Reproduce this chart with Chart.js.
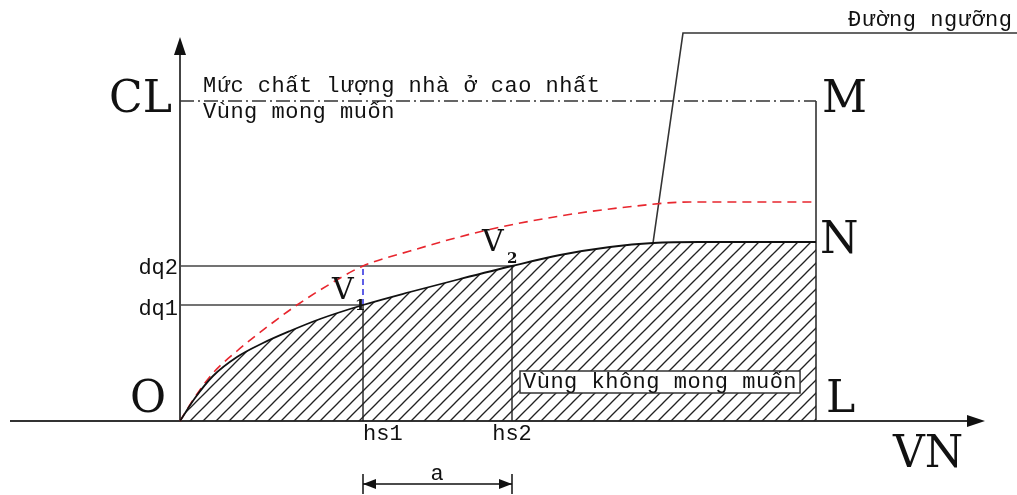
<!DOCTYPE html>
<html>
<head>
<meta charset="utf-8">
<script src="https://cdn.jsdelivr.net/npm/chart.js@4/dist/chart.umd.min.js"></script>
<style>
  html, body { margin: 0; padding: 0; background: #fff; }
  #wrap { width: 1017px; height: 495px; }
</style>
</head>
<body>
<div id="wrap"><canvas id="canvas"></canvas></div>
<script>
// units: distance from O along VN (x) and CL (y)
const curveX = [0, 15, 33, 57, 83, 110, 140, 183, 230, 280, 332, 380, 430, 473, 520, 636]
const lowerY = [0, 23, 45, 64, 78, 90, 102, 116, 129, 142, 155, 166, 174, 178, 179, 179]
const upperX = [0, 15, 33, 57, 87, 117, 150, 183, 230, 303, 380, 447, 510, 636]
const upperY = [0, 24, 48, 70, 94, 116, 137, 155, 170, 190, 205, 214, 219, 219]

const hs1 = 183
const hs2 = 332
const dq1 = 116
const dq2 = 155
const xL = 636
const yCL = 320
const leaderX = [473, 503, 837]
const leaderY = [178, 388, 388]

const pts = (xs, ys) => xs.map((x, i) => ({x: x, y: ys[i]}))

const makeHatch = () => {
    const s = 13
    const c = document.createElement('canvas')
    c.width = s
    c.height = s
    const g = c.getContext('2d')
    g.strokeStyle = '#222'
    g.lineWidth = 1.3
    for (let k = -1; k <= 1; k++) {
        g.beginPath()
        g.moveTo(k * s - 1, s + 1)
        g.lineTo(k * s + s + 1, -1)
        g.stroke()
    }
    return g.createPattern(c, 'repeat')
}

const line = (data, color, width, dash) => ({
    type: 'line',
    data: data,
    borderColor: color,
    borderWidth: width,
    borderDash: dash || [],
    pointRadius: 0,
    fill: false,
    tension: 0
})

const mono = '"Liberation Mono", monospace'
const serif = '"DejaVu Serif", serif'

const labelsPlugin = {
    id: 'labels',
    afterDatasetsDraw(chart) {
        const ctx = chart.ctx
        const sx = chart.scales.x
        const sy = chart.scales.y
        const X = v => sx.getPixelForValue(v)
        const Y = v => sy.getPixelForValue(v)

        const text = (str, x, y, font, align, spacing) => {
            ctx.font = font
            ctx.letterSpacing = spacing || '0px'
            ctx.textAlign = align || 'left'
            ctx.textBaseline = 'middle'
            ctx.fillStyle = '#111'
            ctx.fillText(str, X(x), Y(y))
            ctx.letterSpacing = '0px'
        }
        const tri = (x1, y1, x2, y2, len, half) => {
            const ang = Math.atan2(y2 - y1, x2 - x1)
            ctx.save()
            ctx.translate(x2, y2)
            ctx.rotate(ang)
            ctx.beginPath()
            ctx.moveTo(0, 0)
            ctx.lineTo(-len, -half)
            ctx.lineTo(-len, half)
            ctx.closePath()
            ctx.fillStyle = '#111'
            ctx.fill()
            ctx.restore()
        }

        ctx.save()
        // axis arrow heads
        tri(X(0), Y(0), X(0), Y(384), 18, 6)
        tri(X(0), Y(0), X(805), Y(0), 18, 6)

        // dimension "a"
        const dy = -63
        ctx.strokeStyle = '#111'
        ctx.lineWidth = 1.5
        ctx.beginPath()
        ctx.moveTo(X(hs1), Y(dy) - 10)
        ctx.lineTo(X(hs1), Y(dy) + 10)
        ctx.moveTo(X(hs2), Y(dy) - 10)
        ctx.lineTo(X(hs2), Y(dy) + 10)
        ctx.moveTo(X(hs1), Y(dy))
        ctx.lineTo(X(hs2), Y(dy))
        ctx.stroke()
        tri(X(hs2), Y(dy), X(hs1), Y(dy), 13, 5)
        tri(X(hs1), Y(dy), X(hs2), Y(dy), 13, 5)

        // big letters
        const big = '44px ' + serif
        text('CL', -8, yCL, big, 'right')
        text('M', 642, yCL, big)
        text('N', 640, 179, big)
        text('L', 646, 20, big)
        text('O', -32, 20, big, 'center')
        text('VN', 713, -35, big)

        // small labels
        const small = '22px ' + mono
        const sp = '0.5px'
        text('dq2', -2, 153, small, 'right')
        text('dq1', -2, 112, small, 'right')
        text('hs1', hs1, -13, small)
        text('hs2', hs2, -13, small, 'center')
        text('a', 257, -53, small, 'center')
        text('Mức chất lượng nhà ở cao nhất', 23, 335, small, 'left', sp)
        text('Vùng mong muốn', 23, 309, small, 'left', sp)
        text('Đường ngưỡng', 668, 401, small, 'left', sp)

        // V1, V2
        const vf = '30px ' + serif
        const sub = 'bold 15px ' + serif
        text('V', 152, 130, vf)
        text('1', 175, 115, sub)
        text('V', 302, 178, vf)
        text('2', 327, 162, sub)

        // boxed label in hatched area
        ctx.font = small
        ctx.letterSpacing = sp
        const lbl = 'Vùng không mong muốn'
        const w = ctx.measureText(lbl).width
        ctx.letterSpacing = '0px'
        const bx = X(340), by = Y(39)
        ctx.fillStyle = '#fff'
        ctx.fillRect(bx, by - 11, w + 6, 22)
        ctx.strokeStyle = '#333'
        ctx.lineWidth = 1.5
        ctx.strokeRect(bx, by - 11, w + 6, 22)
        text(lbl, 343, 39, small, 'left', sp)
        ctx.restore()
    }
}

new Chart(document.getElementById('canvas'), {
    type: 'scatter',
    data: {
        datasets: [
            {
                type: 'line',
                data: pts(curveX, lowerY),
                borderColor: '#111',
                borderWidth: 1.8,
                backgroundColor: makeHatch(),
                fill: 'origin',
                pointRadius: 0,
                cubicInterpolationMode: 'monotone'
            },
            {
                type: 'line',
                data: pts(upperX, upperY),
                borderColor: '#e8262e',
                borderWidth: 1.6,
                borderDash: [9, 6],
                fill: false,
                pointRadius: 0,
                cubicInterpolationMode: 'monotone'
            },
            line([{x: 0, y: yCL}, {x: xL, y: yCL}], '#333', 1.4, [14, 4, 2, 4]),
            line([{x: xL, y: yCL}, {x: xL, y: 0}], '#333', 1.6),
            line([{x: 0, y: dq1}, {x: hs1, y: dq1}], '#444', 1.4),
            line([{x: 0, y: dq2}, {x: hs2, y: dq2}], '#444', 1.4),
            line([{x: hs1, y: dq1}, {x: hs1, y: 0}], '#222', 1.4),
            line([{x: hs2, y: dq2}, {x: hs2, y: 0}], '#222', 1.4),
            line([{x: hs1, y: dq1}, {x: hs1, y: dq2}], '#2a2ae0', 1.5, [6, 4]),
            line(pts(leaderX, leaderY), '#333', 1.6),
            line([{x: 0, y: 0}, {x: 0, y: 375}], '#444', 2),
            line([{x: -170, y: 0}, {x: 795, y: 0}], '#333', 2)
        ]
    },
    options: {
        responsive: true,
        maintainAspectRatio: false,
        animation: false,
        layout: { padding: 0 },
        plugins: {
            legend: { display: false },
            tooltip: { enabled: false }
        },
        scales: {
            x: { type: 'linear', min: -180, max: 837, display: false },
            y: { type: 'linear', min: -74, max: 421, display: false }
        }
    },
    plugins: [labelsPlugin]
});
</script>
</body>
</html>
